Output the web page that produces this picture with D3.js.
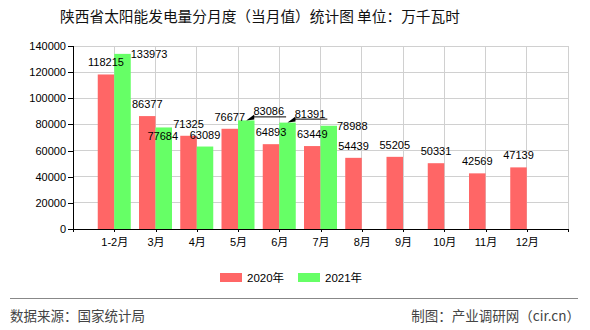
<!DOCTYPE html>
<html><head><meta charset="utf-8">
<script src="https://cdn.jsdelivr.net/npm/d3@7"></script>
<style>
html,body{margin:0;padding:0;background:#fff;}
svg{display:block;font-family:"Liberation Sans","DejaVu Sans",sans-serif;}
</style></head>
<body>
<svg id="chart" width="590" height="330"></svg>
<script>
// ---- data ----
const categories = ["1-2月","3月","4月","5月","6月","7月","8月","9月","10月","11月","12月"];
const values2020 = [118215, 86377, 71325, 76677, 64893, 63449, 54439, 55205, 50331, 42569, 47139];
const values2021 = [133973, 77684, 63089, 83086, 81391, 78988];
const seriesNames = ["2020年","2021年"];
const yTicks = [0,20000,40000,60000,80000,100000,120000,140000];
const titleText = "陕西省太阳能发电量分月度（当月值）统计图 单位：万千瓦时";
const sourceText = "数据来源：国家统计局";
const creditText = "制图：产业调研网（cir.cn）";
// label placement modes for the 2021 series (index -> mode); default is "top"
const placement2021 = {0:"right", 1:"below", 3:"leader", 4:"leader", 5:"right"};

(function(){
const colors = ["#ff6666", "#66ff66"];
const svg = d3.select("#chart");

const pLeft = 73, pRight = 568, pTop = 46, pBottom = 229;
const x = d3.scaleLinear().domain([0, categories.length + 1]).range([pLeft, pRight]);
const y = d3.scaleLinear().domain([0, 140000]).range([pBottom, pTop]);
const barW = (x(1) - x(0)) * 0.4;

// title
svg.append("text").attr("x", 260).attr("y", 22).attr("text-anchor","middle")
  .style("font-family",'"Noto Sans CJK SC",sans-serif').style("font-size","14.7px").attr("fill","#111")
  .text(titleText);

// grid
const g = svg.append("g");
g.selectAll("line.h").data(yTicks.slice(1)).join("line")
  .attr("x1", pLeft).attr("x2", pRight).attr("y1", d=>y(d)).attr("y2", d=>y(d))
  .attr("stroke","#d0d0d0").attr("stroke-width",1).attr("shape-rendering","crispEdges");
g.selectAll("line.v").data(d3.range(1, categories.length + 2)).join("line")
  .attr("x1", d=>x(d)).attr("x2", d=>x(d)).attr("y1", pTop).attr("y2", pBottom)
  .attr("stroke","#d0d0d0").attr("stroke-width",1).attr("shape-rendering","crispEdges");

// bars
const bars = svg.append("g");
bars.selectAll("rect.s0").data(values2020).join("rect")
  .attr("x", (d,i)=>x(i+1)-barW).attr("y", d=>y(d)).attr("width", barW).attr("height", d=>y(0)-y(d))
  .attr("fill", colors[0]);
bars.selectAll("rect.s1").data(values2021).join("rect")
  .attr("x", (d,i)=>x(i+1)).attr("y", d=>y(d)).attr("width", barW).attr("height", d=>y(0)-y(d))
  .attr("fill", colors[1]);

// axes
const yAxis = d3.axisLeft(y).tickValues(yTicks).tickSize(5).tickPadding(2).tickFormat(d3.format("d"));
const ya = svg.append("g").attr("transform", `translate(${pLeft},0)`).call(yAxis);
const xAxis = d3.axisBottom(x).tickValues(d3.range(0, categories.length + 2)).tickSize(3).tickPadding(6)
  .tickFormat(d => (d>=1 && d<=categories.length) ? categories[d-1] : "");
const xa = svg.append("g").attr("transform", `translate(0,${pBottom})`).call(xAxis);
[ya, xa].forEach(a => {
  a.select(".domain").attr("stroke","#000").attr("shape-rendering","crispEdges");
  a.selectAll(".tick line").attr("stroke","#000").attr("shape-rendering","crispEdges");
  a.selectAll("text").attr("fill","#000").style("font-size","11px")
    .style("font-family",'"Liberation Sans","Noto Sans CJK SC",sans-serif');
});

// labels
const lab = svg.append("g").style("font-size","11px").attr("fill","#000");
values2020.forEach((v,i)=>{
  lab.append("text").attr("x", x(i+1)-barW/2).attr("y", y(v)-8).attr("text-anchor","middle").text(v);
});
values2021.forEach((v,i)=>{
  const mode = placement2021[i] || "top";
  const cx = x(i+1)+barW/2, ty = y(v), rx = x(i+1)+barW;
  if (mode === "top") {
    lab.append("text").attr("x", cx).attr("y", ty-8).attr("text-anchor","middle").text(v);
  } else if (mode === "right") {
    lab.append("text").attr("x", rx).attr("y", ty+4).attr("text-anchor","start").text(v);
  } else if (mode === "below") {
    lab.append("text").attr("x", cx-1).attr("y", ty+13).attr("text-anchor","middle").text(v);
  } else if (mode === "leader") {
    const t = lab.append("text").attr("x", rx-1).attr("y", ty-5).attr("text-anchor","start").text(v);
    const w = t.node().getComputedTextLength();
    lab.append("line").attr("x1", cx+6).attr("x2", rx-1+w+2).attr("y1", ty-3.5).attr("y2", ty-3.5)
      .attr("stroke","#000").attr("stroke-width",1);
    lab.append("path").attr("d", `M${cx},${ty} L${cx+8},${ty-6} L${cx+8},${ty-1} Z`).attr("fill","#000");
  }
});

// legend
const leg = svg.append("g");
const legX = [220, 298];
seriesNames.forEach((n,i)=>{
  leg.append("rect").attr("x", legX[i]).attr("y", 273).attr("width", 22).attr("height", 9).attr("fill", colors[i]);
  leg.append("text").attr("x", legX[i]+27).attr("y", 282).style("font-size","11.5px")
    .style("font-family",'"Liberation Sans","Noto Sans CJK SC",sans-serif').attr("fill","#000").text(n);
});

// footer
svg.append("line").attr("x1",10).attr("x2",578).attr("y1",298.5).attr("y2",298.5)
  .attr("stroke","#888").attr("stroke-width",1);
svg.append("text").attr("x",10).attr("y",321).style("font-size","13.5px")
  .style("font-family",'"Noto Sans CJK SC",sans-serif').attr("fill","#444").text(sourceText);
svg.append("text").attr("x",580).attr("y",321).attr("text-anchor","end").style("font-size","13.5px")
  .style("font-family",'"Noto Sans CJK SC",sans-serif').attr("fill","#444").text(creditText);
})();
</script>
</body></html>
